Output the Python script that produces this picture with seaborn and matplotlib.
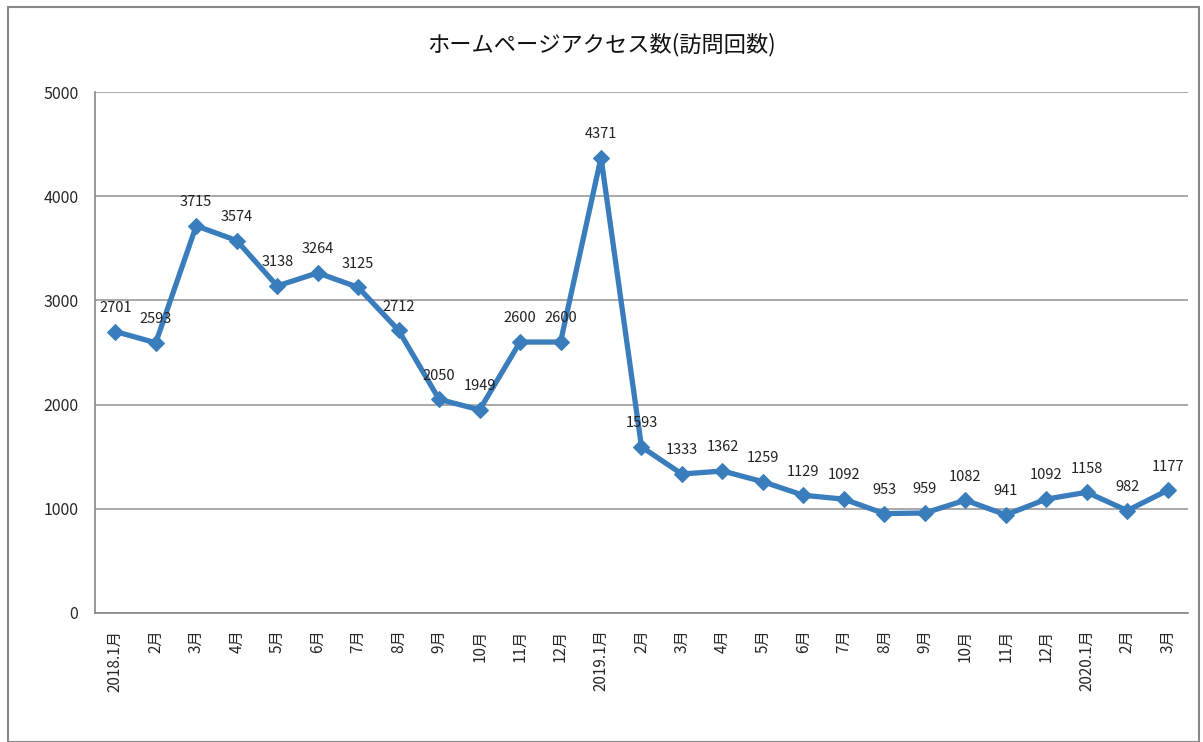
import matplotlib
matplotlib.use("Agg")
import matplotlib.pyplot as plt
import seaborn as sns
import pandas as pd
import numpy as np
from matplotlib.patches import Rectangle

months = ["2018.1月", "2月", "3月", "4月", "5月", "6月", "7月", "8月", "9月", "10月", "11月", "12月",
          "2019.1月", "2月", "3月", "4月", "5月", "6月", "7月", "8月", "9月", "10月", "11月", "12月",
          "2020.1月", "2月", "3月"]
visits = [2701, 2593, 3715, 3574, 3138, 3264, 3125, 2712, 2050, 1949, 2600, 2600,
          4371, 1593, 1333, 1362, 1259, 1129, 1092, 953, 959, 1082, 941, 1092,
          1158, 982, 1177]
title = "ホームページアクセス数(訪問回数)"

sns.set_theme(style="white")
plt.rcParams['font.family'] = ['Noto Sans CJK JP', 'DejaVu Sans']

df = pd.DataFrame({"idx": np.arange(len(months)), "visits": visits})

fig = plt.figure(figsize=(12.03, 7.42), dpi=100)
ax = fig.add_axes([0.079, 0.174, 0.9085, 0.702])

color = "#3a7dbd"
sns.lineplot(data=df, x="idx", y="visits", ax=ax, color=color, linewidth=3.8,
             marker="D", markersize=8, markeredgecolor=color, markerfacecolor=color)

for i, v in enumerate(visits):
    ax.annotate(str(v), (i, v), xytext=(0, 12), textcoords="offset points",
                ha="center", va="bottom", fontsize=10.5, color="#222222")

ax.set_xlim(-0.5, len(months) - 0.5)
ax.set_ylim(0, 5000)
ax.set_yticks([0, 1000, 2000, 3000, 4000, 5000])
ax.yaxis.grid(True, color="#999999", linewidth=1.2)
ax.set_axisbelow(True)

ax.set_xticks(np.arange(len(months)))
ax.set_xticklabels(months, rotation=90, fontsize=11, va="top")
ax.set_xticks(np.arange(-0.5, len(months), 1.0), minor=True)
ax.tick_params(axis="x", which="major", length=0, pad=12)
ax.tick_params(axis="x", which="minor", length=7, width=1, color="#888888", direction="out")
ax.tick_params(axis="y", length=6, width=1, color="#888888", direction="out", labelsize=11.5, pad=6)

ax.set_xlabel("")
ax.set_ylabel("")
for s in ["top", "right"]:
    ax.spines[s].set_visible(False)
for s in ["left", "bottom"]:
    ax.spines[s].set_color("#888888")
    ax.spines[s].set_linewidth(1.2)

fig.text(0.5, 0.94, title, ha="center", va="center", fontsize=16, color="#111111")

fig.patches.append(Rectangle((0.007, 0.0), 0.99, 0.99, transform=fig.transFigure,
                             fill=False, edgecolor="#888888", linewidth=1.5))

fig.savefig("out.png", dpi=100)
